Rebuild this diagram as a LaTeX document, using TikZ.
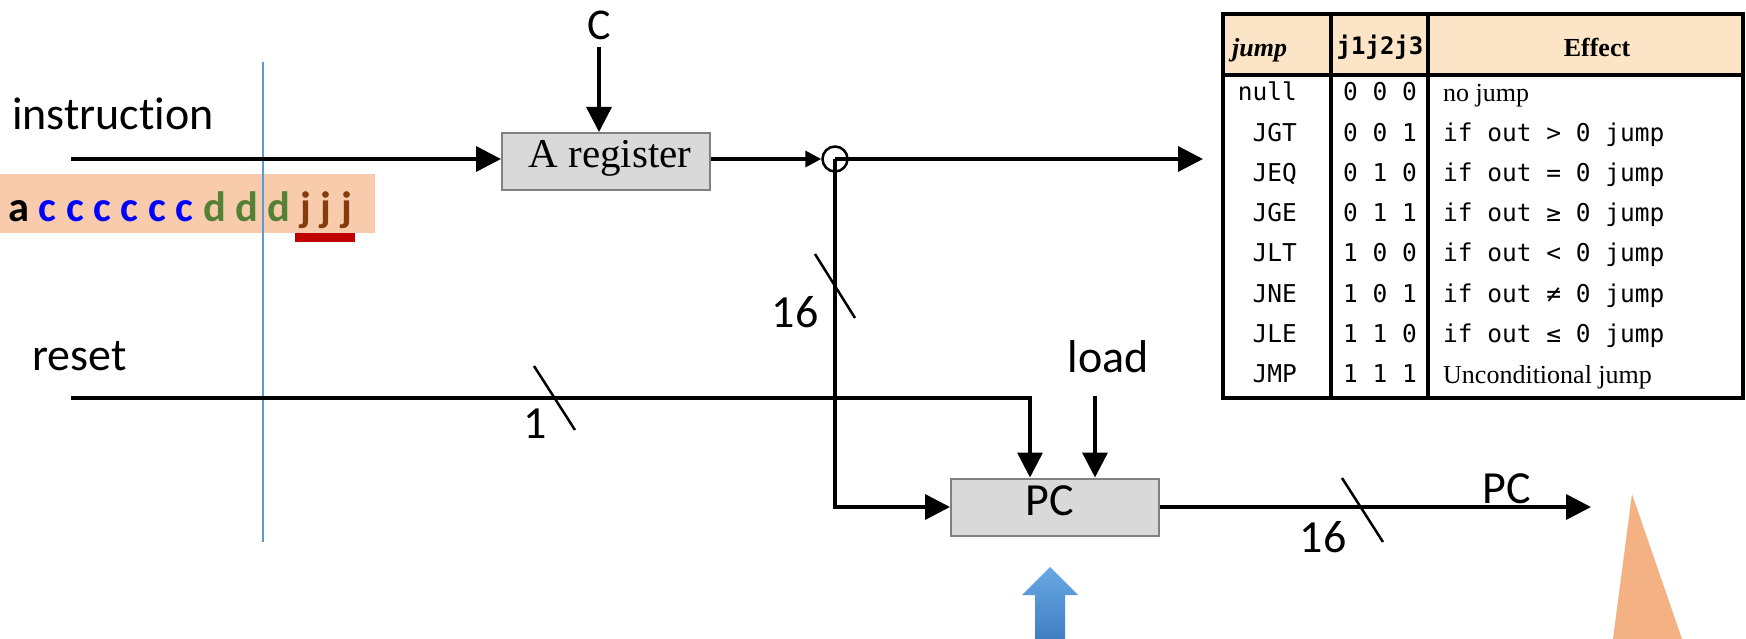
\documentclass[tikz,border=0pt]{standalone}
\usepackage{fontspec}
\setmainfont{Liberation Serif}
\newfontfamily\labfont[Ligatures={NoCommon,NoDiscretionary,NoRare}]{Carlito}
\newfontfamily\codefont{DejaVu Sans Mono}
\usetikzlibrary{arrows.meta,shadings}
\definecolor{regfillc}{HTML}{D9D9D9}
\definecolor{regdrawc}{HTML}{808080}
\definecolor{insbgc}{HTML}{F8CBAD}
\definecolor{cbluec}{HTML}{0000FF}
\definecolor{dgreenc}{HTML}{548235}
\definecolor{jbrownc}{HTML}{843C0C}
\definecolor{redbarc}{HTML}{C00000}
\definecolor{vlinec}{HTML}{5B9BD5}
\definecolor{theadc}{HTML}{FCE4C6}
\definecolor{tric}{HTML}{F4B183}
\definecolor{bartopc}{HTML}{6AA8E4}
\definecolor{barbotc}{HTML}{3F7FC2}
\begin{document}
\begin{tikzpicture}[x=1pt,y=-1pt,
  wire/.style={line width=3.5pt},
  arr/.style={wire,-{Triangle[length=25pt,width=25pt]}},
  sarr/.style={wire,-{Triangle[length=16pt,width=16pt]}},
  slash/.style={line width=2.5pt},
  reg/.style={draw=regdrawc,fill=regfillc,line width=2pt,minimum width=208pt,minimum height=57pt,inner sep=0},
  lab/.style={font=\labfont\fontsize{46pt}{50pt}\selectfont,inner sep=0},
  tcode/.style={font=\codefont\fontsize{24.5pt}{26pt}\selectfont,inner sep=0},
  tserif/.style={font=\fontsize{26pt}{28pt}\selectfont,inner sep=0},
  gridline/.style={line width=3.5pt}]
\useasboundingbox (0,0) rectangle (1746,639);

% instruction bits
\fill[insbgc] (0,174) rectangle (375,233);
\node[font=\labfont\bfseries\fontsize{42.5pt}{46pt}\selectfont,anchor=base west,inner sep=0] (bits) at (8,222)
  {\textcolor{black}{a} \textcolor{cbluec}{c c c c c c} \textcolor{dgreenc}{d d d} \textcolor{jbrownc}{j j j}};
\fill[redbarc] (295,233) rectangle (355,242);
\draw[vlinec,line width=2.5pt] (263,62) -- (263,542);

% labels
\node[lab,anchor=base west] (inslab) at (12,130) {instruction};
\node[lab,anchor=base west] (rstlab) at (32,370) {reset};
\node[font=\labfont\fontsize{44pt}{48pt}\selectfont,inner sep=0,anchor=base] (clab) at (599,40) {C};
\node[lab,anchor=base] (loadlab) at (1108,372) {load};
\node[lab,anchor=base] (w1) at (535,438) {1};
\node[lab,anchor=base] (w16a) at (795,327) {16};
\node[lab,anchor=base] (w16b) at (1323,552) {16};
\node[lab,anchor=base] (pcoutlab) at (1507,503) {PC};

% registers
\node[reg] (areg) at (606,161.5) {};
\node[font=\fontsize{41pt}{44pt}\selectfont,inner sep=0,anchor=base] (aregtxt) at (610,168) {A register};
\node[reg] (pc) at (1055,507) {};
\node[lab,anchor=base] (pctxt) at (1050,515) {PC};

% coordinates
\coordinate (insL) at (71,159);
\coordinate (rstL) at (71,398);
\coordinate (aout) at (1203,159);
\coordinate (pcend) at (1591,507);
\coordinate (loadtop) at (1095,396);
\coordinate (rdrop) at (1030,398);
\node[circle,draw,line width=2.5pt,minimum size=25pt,inner sep=0] (jn) at (835,159) {};

% connectors
\draw[arr] ([yshift=-7pt]clab.base) -- (clab.base |- areg.north);
\draw[arr] (insL) -- (insL -| areg.west);
\draw[sarr] (areg.east |- jn) -- (jn.west);
\draw[arr] (jn.center) -- (aout);
\draw[arr] (jn.center) |- (pc.west);
\draw[arr] (rstL) -| (rdrop |- pc.north);
\draw[arr] (loadtop) -- (loadtop |- pc.north);
\draw[arr] (pc.east) -- (pc.east -| pcend);

% bus width slashes
\draw[slash] (534,366) -- (575,430);
\draw[slash] (815,254) -- (855,318);
\draw[slash] (1342,478) -- (1383,542);

% table
\fill[theadc] (1223,14) rectangle (1743,75);
\draw[gridline] (1223,14) rectangle (1743,398);
\draw[gridline] (1223,75) -- (1743,75);
\draw[gridline] (1331,14) -- (1331,398);
\draw[gridline] (1428,14) -- (1428,398);
\node[font=\bfseries\itshape\fontsize{26pt}{28pt}\selectfont,inner sep=0,anchor=base west] (hjump) at (1232,57) {jump};
\node[font=\codefont\bfseries\fontsize{24pt}{26pt}\selectfont,inner sep=0,anchor=base] (hbits) at (1380,55) {j1j2j3};
\node[font=\bfseries\fontsize{26pt}{28pt}\selectfont,inner sep=0,anchor=base] (heff) at (1597,57) {Effect};
\foreach \i/\nm/\bv in {0/null/0 0 0,1/JGT/0 0 1,2/JEQ/0 1 0,3/JGE/0 1 1,4/JLT/1 0 0,5/JNE/1 0 1,6/JLE/1 1 0,7/JMP/1 1 1}{
  \node[tcode,anchor=base east] (nm\i) at (1297,101+40.2*\i) {\nm};
  \node[tcode,anchor=base] (bv\i) at (1380,101+40.2*\i) {\bv};
}
\node[tserif,anchor=base west] (eff0) at (1443,102) {no jump};
\foreach \i/\op in {1/>,2/=,3/≥,4/<,5/≠,6/≤}{
  \node[tcode,anchor=base west] (eff\i) at (1443,101+40.2*\i) {if out \op\ 0 jump};
}
\node[tserif,anchor=base west] (eff7) at (1443,383) {Unconditional jump};

% decorative shapes
\shade[top color=bartopc,bottom color=barbotc] (1035,639) -- (1035,595) -- (1022,595) -- (1050,567) -- (1078,595) -- (1065,595) -- (1065,639) -- cycle;
\fill[tric] (1632,494) -- (1682,639) -- (1613,639) -- cycle;
\end{tikzpicture}
\end{document}
